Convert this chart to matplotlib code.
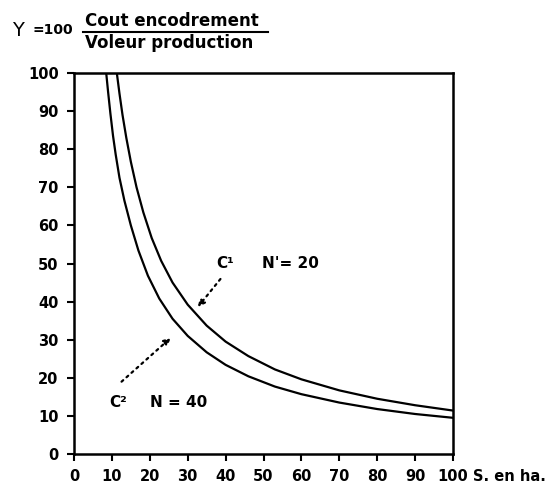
import matplotlib.pyplot as plt

# courbe C1 (N' = 20)
c1_x = [11.3, 12, 12.8, 13.8, 15, 16.5, 18.3, 20.5, 23, 26, 30, 35, 40, 46, 53, 60, 70, 80, 90, 100]
c1_y = [100, 94.6, 89, 83, 76.7, 70, 63.4, 56.7, 50.7, 45, 39.2, 33.7, 29.5, 25.7, 22.2, 19.6, 16.7, 14.5, 12.8, 11.4]

# courbe C2 (N = 40)
c2_x = [8.5, 9, 9.6, 10.3, 11, 12, 13.3, 15, 17, 19.5, 22.5, 26, 30, 35, 40, 46, 53, 60, 70, 80, 90, 100]
c2_y = [100, 95, 89.4, 83.5, 78.6, 72.5, 66.5, 60, 53.4, 46.8, 40.8, 35.5, 31, 26.7, 23.4, 20.4, 17.7, 15.7, 13.5, 11.8, 10.5, 9.5]

ticks = [0, 10, 20, 30, 40, 50, 60, 70, 80, 90, 100]

fig = plt.figure(figsize=(5.58, 4.87), dpi=100)
ax = fig.add_axes([74/558, 1-454/487, 379/558, 381/487])

ax.plot(c1_x, c1_y, color="black", lw=1.6)
ax.plot(c2_x, c2_y, color="black", lw=1.6)

ax.set_xlim(0, 100)
ax.set_ylim(0, 100)
ax.set_xticks(ticks)
ax.set_yticks(ticks)
ax.tick_params(direction="out", length=5, width=1.5, labelsize=10.5, pad=6)
for lab in ax.get_xticklabels() + ax.get_yticklabels():
    lab.set_fontweight("bold")
for s in ax.spines.values():
    s.set_linewidth(1.8)

# annotations
ax.text(37.5, 50, "C¹", fontsize=11, fontweight="bold", va="center")
ax.text(49.5, 50, "N'= 20", fontsize=11, fontweight="bold", va="center")
ax.annotate("", xy=(32.2, 38.0), xytext=(39.1, 46.5),
            arrowprops=dict(arrowstyle="-|>", ls=(0, (1, 2)), lw=1.6, color="black"))
ax.text(9.4, 13.6, "C²", fontsize=11, fontweight="bold", va="center")
ax.text(20, 13.6, "N = 40", fontsize=11, fontweight="bold", va="center")
ax.annotate("", xy=(26.1, 31.0), xytext=(12, 18.5),
            arrowprops=dict(arrowstyle="-|>", ls=(0, (1, 2)), lw=1.6, color="black"))

ax.annotate("S. en ha.", xy=(100, 0), xytext=(14.5, -11), textcoords="offset points",
            fontsize=10.5, fontweight="bold", va="top")

# titre en fraction
fig.text(12/558, 1-30/487, "Y", fontsize=14, va="center")
fig.text(32/558, 1-30/487, "=100", fontsize=10, fontweight="bold", va="center")
fig.text(85/558, 1-21/487, "Cout encodrement", fontsize=12, fontweight="bold", va="center")
fig.text(85/558, 1-43/487, "Voleur production", fontsize=12, fontweight="bold", va="center")
fig.add_artist(plt.Line2D([83/558, 268/558], [1-32/487, 1-32/487], color="black", lw=1.5))

fig.savefig("out.png", dpi=100)
